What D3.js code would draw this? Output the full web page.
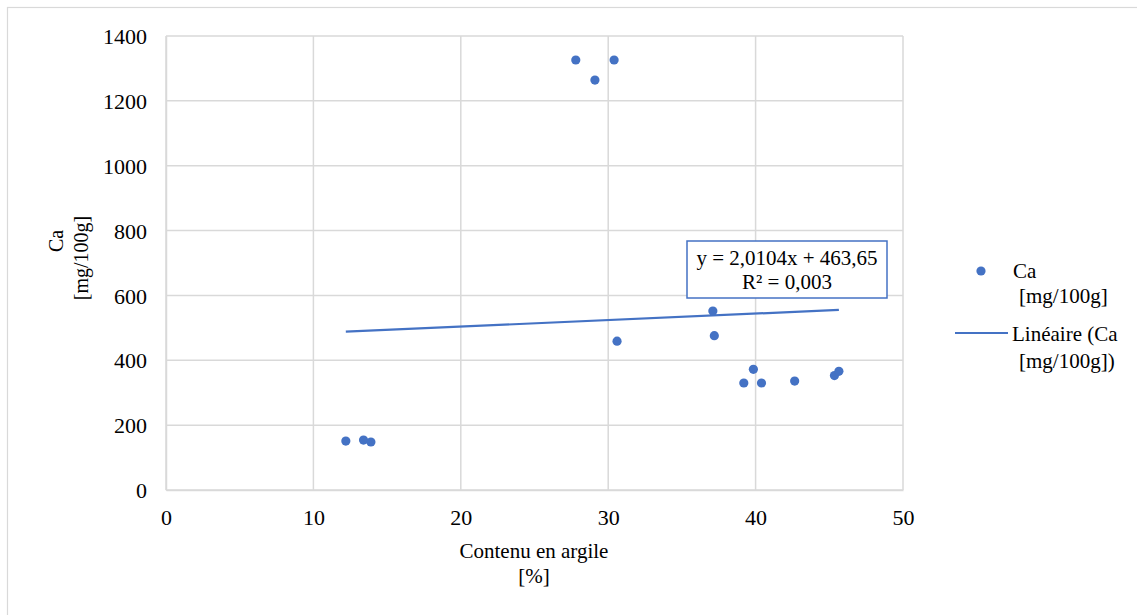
<!DOCTYPE html>
<html>
<head>
<meta charset="utf-8">
<script src="https://cdn.jsdelivr.net/npm/d3@7"></script>
<style>
  html, body { margin: 0; padding: 0; background: #fff; }
  svg { display: block; }
</style>
</head>
<body>
<svg id="chart" width="1137" height="615"></svg>
<script>
// Clay content [%] vs calcium [mg/100g]
const clay = [12.2, 13.4, 13.9, 27.8, 29.1, 30.4, 30.6, 37.1, 37.2, 39.2, 39.85, 40.4, 42.65, 45.35, 45.65];
const calcium = [151, 154, 148, 1326, 1264, 1326, 459, 552, 476, 330, 372, 330, 336, 353, 366];

const xTicks = [0, 10, 20, 30, 40, 50];
const yTicks = [0, 200, 400, 600, 800, 1000, 1200, 1400];

// Linear trend as reported in the equation label
const slope = 2.0104;
const intercept = 463.65;
const rSquared = "0,003";

const blue = "#4472C4";
const grid = "#d9d9d9";
const serif = "Liberation Serif";

const svg = d3.select("#chart");

// helper for serif text
function label(parent, size) {
  return parent.append("text").attr("font-family", serif).attr("font-size", size).attr("fill", "#000");
}

// chart frame
svg.append("rect")
  .attr("x", 7.5).attr("y", 7.5)
  .attr("width", 1140).attr("height", 620)
  .attr("fill", "none").attr("stroke", grid).attr("stroke-width", 1.2);

const x = d3.scaleLinear().domain([0, 50]).range([166, 903]);
const y = d3.scaleLinear().domain([0, 1400]).range([490, 36]);

// grid
svg.append("g").selectAll("line").data(xTicks).join("line")
  .attr("x1", d => x(d)).attr("x2", d => x(d))
  .attr("y1", y(1400)).attr("y2", y(0))
  .attr("stroke", grid).attr("stroke-width", 1.5);
svg.append("g").selectAll("line").data(yTicks).join("line")
  .attr("x1", x(0)).attr("x2", x(50))
  .attr("y1", d => y(d)).attr("y2", d => y(d))
  .attr("stroke", grid).attr("stroke-width", 1.5);

// axes
const xAxis = d3.axisBottom(x).tickValues(xTicks).tickSize(0).tickPadding(0).tickFormat(d3.format("d"));
const gx = svg.append("g").attr("transform", `translate(0,${y(0)})`).call(xAxis)
  .attr("font-family", serif).attr("font-size", 22);
gx.select(".domain").attr("stroke", grid).attr("stroke-width", 1.5);
gx.selectAll("text").attr("dy", null).attr("y", 35).attr("fill", "#000").attr("font-family", serif);

const yAxis = d3.axisLeft(y).tickValues(yTicks).tickSize(0).tickPadding(19).tickFormat(d3.format("d"));
const gy = svg.append("g").attr("transform", `translate(${x(0)},0)`).call(yAxis)
  .attr("font-family", serif).attr("font-size", 22);
gy.select(".domain").attr("stroke", grid).attr("stroke-width", 1.5);
gy.selectAll("text").attr("dy", "0.35em").attr("fill", "#000").attr("font-family", serif);

// axis titles
const xt = label(svg, 21).attr("text-anchor", "middle");
xt.append("tspan").attr("x", 534).attr("y", 558).text("Contenu en argile");
xt.append("tspan").attr("x", 534).attr("y", 583).text("[%]");

label(svg, 20).attr("text-anchor", "middle")
  .attr("transform", "translate(63,241) rotate(-90)").text("Ca");
label(svg, 20).attr("text-anchor", "middle")
  .attr("transform", "translate(88,258) rotate(-90)").text("[mg/100g]");

// trend line
const xMin = d3.min(clay), xMax = d3.max(clay);
svg.append("line")
  .attr("x1", x(xMin)).attr("y1", y(slope * xMin + intercept))
  .attr("x2", x(xMax)).attr("y2", y(slope * xMax + intercept))
  .attr("stroke", blue).attr("stroke-width", 2.2);

// points
svg.append("g").selectAll("circle").data(clay.map((c, i) => [c, calcium[i]])).join("circle")
  .attr("cx", d => x(d[0])).attr("cy", d => y(d[1]))
  .attr("r", 4.6).attr("fill", blue);

// equation box
const fmt = v => String(v).replace(".", ",");
svg.append("rect")
  .attr("x", 687).attr("y", 241).attr("width", 200).attr("height", 57)
  .attr("fill", "#fff").attr("stroke", blue).attr("stroke-width", 1.5);
const eq = label(svg, 21).attr("text-anchor", "middle");
eq.append("tspan").attr("x", 787).attr("y", 265).text(`y = ${fmt(slope)}x + ${fmt(intercept)}`);
eq.append("tspan").attr("x", 787).attr("y", 289).text(`R² = ${rSquared}`);

// legend
const lg = svg.append("g");
lg.append("circle").attr("cx", 981).attr("cy", 271).attr("r", 4.6).attr("fill", blue);
label(lg, 21).attr("x", 1013).attr("y", 278).text("Ca");
label(lg, 21).attr("x", 1019).attr("y", 303).text("[mg/100g]");
lg.append("line").attr("x1", 955).attr("x2", 1008).attr("y1", 333).attr("y2", 333)
  .attr("stroke", blue).attr("stroke-width", 2.2);
label(lg, 21).attr("x", 1012).attr("y", 341).text("Linéaire (Ca");
label(lg, 21).attr("x", 1019).attr("y", 368).text("[mg/100g])");
</script>
</body>
</html>
